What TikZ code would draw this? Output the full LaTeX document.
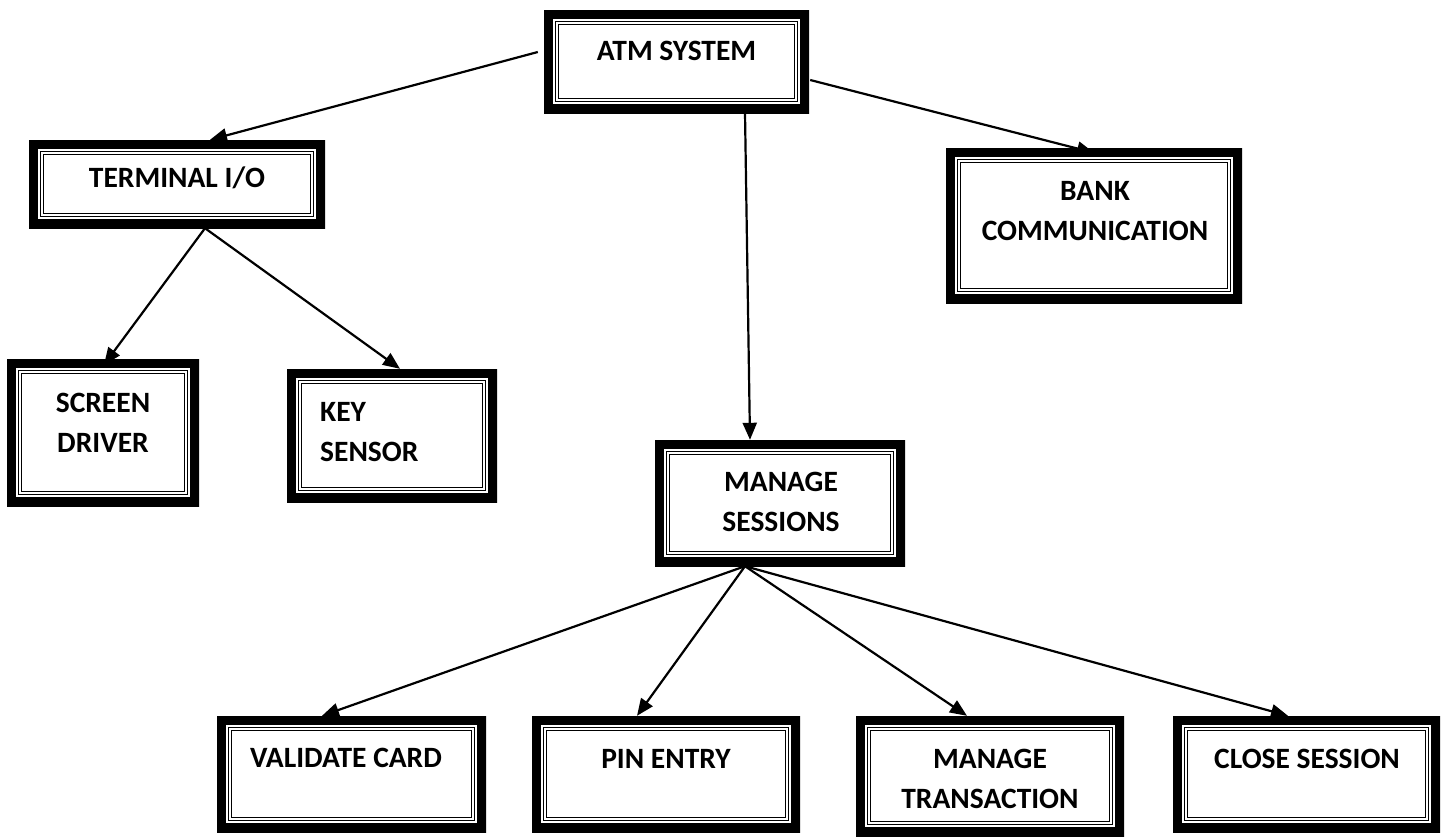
\documentclass[tikz,border=0pt]{standalone}
\usepackage{fontspec}
\setmainfont{Carlito}
\usetikzlibrary{arrows.meta}

\begin{document}
\begin{tikzpicture}[x=1pt,y=-1pt,
  % box with a thick outer rule and two thin inner rules
  frame/.style={inner sep=0pt, fill=white,
    path picture={
      \draw[line width=18pt] (path picture bounding box.south west) rectangle (path picture bounding box.north east);
      \draw[line width=1.4pt] ([shift={(11.6pt,11.6pt)}]path picture bounding box.south west) rectangle ([shift={(-11.6pt,-11.6pt)}]path picture bounding box.north east);
      \draw[line width=1.4pt] ([shift={(14.6pt,14.6pt)}]path picture bounding box.south west) rectangle ([shift={(-14.6pt,-14.6pt)}]path picture bounding box.north east);
    }},
  lbl/.style={inner sep=0pt, font=\fontsize{29.5}{40}\selectfont\bfseries, align=center},
  link/.style={line width=2.2pt, -{Triangle[length=17pt,width=14pt]}}
]
\useasboundingbox (0,0) rectangle (1447,836);

% boxes
\node[frame, minimum width=265pt, minimum height=103pt] (atm)    at (676.5,61.5) {};
\node[frame, minimum width=296pt, minimum height=88pt]  (term)   at (177,184) {};
\node[frame, minimum width=296pt, minimum height=155pt] (bank)   at (1094,225.5) {};
\node[frame, minimum width=192pt, minimum height=147pt] (screen) at (103,432.5) {};
\node[frame, minimum width=210pt, minimum height=133pt] (key)    at (392,435.5) {};
\node[frame, minimum width=250pt, minimum height=126pt] (ms)     at (780,503) {};
\node[frame, minimum width=269pt, minimum height=116pt] (val)    at (351.5,774) {};
\node[frame, minimum width=268pt, minimum height=116pt] (pin)    at (666,774) {};
\node[frame, minimum width=268pt, minimum height=120pt] (mt)     at (990,776) {};
\node[frame, minimum width=267pt, minimum height=116pt] (close)  at (1306.5,774) {};

% labels
\node[lbl] (atm-t)    at (676.5,51) {ATM SYSTEM};
\node[lbl] (term-t)   at (177,178) {TERMINAL I/O};
\node[lbl] (bank-t)   at (1095,211) {BANK\\COMMUNICATION};
\node[lbl] (screen-t) at (103,422.5) {SCREEN\\DRIVER};
\node[lbl, align=left, anchor=west] (key-t) at (320,432.5) {KEY\\SENSOR};
\node[lbl] (ms-t)     at (781,502) {MANAGE\\SESSIONS};
\node[lbl] (val-t)    at (346,758) {VALIDATE CARD};
\node[lbl] (pin-t)    at (666,759) {PIN ENTRY};
\node[lbl] (mt-t)     at (990,778.5) {MANAGE\\TRANSACTION};
\node[lbl] (close-t)  at (1307,759) {CLOSE SESSION};

% connectors
\draw[link] ([xshift=-6pt,yshift=9.5pt]atm.west) -- ([xshift=33pt]term.north);
\draw[link] ([xshift=1pt,yshift=-18.5pt]atm.east) -- ([yshift=-5pt]bank.north);
\draw[link] ([xshift=68.5pt]atm.south) -- ([xshift=-30pt]ms.north);
\draw[link] ([xshift=28pt]term.south) -- ([xshift=1pt,yshift=-6pt]screen.north);
\draw[link] ([xshift=28pt]term.south) -- ([xshift=8pt]key.north);
\draw[link] ([xshift=-35pt]ms.south) -- ([xshift=-29.5pt]val.north);
\draw[link] ([xshift=-35pt]ms.south) -- ([xshift=-29pt]pin.north);
\draw[link] ([xshift=-35pt]ms.south) -- ([xshift=-23pt]mt.north);
\draw[link] ([xshift=-35pt]ms.south) -- ([xshift=-18.5pt]close.north);
\end{tikzpicture}
\end{document}
